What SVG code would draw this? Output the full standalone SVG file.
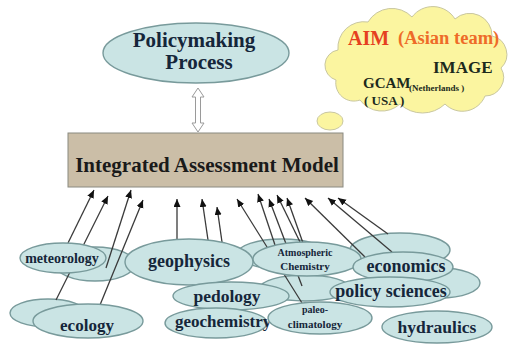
<svg xmlns="http://www.w3.org/2000/svg" width="508" height="344" viewBox="0 0 508 344">
  <defs>
    <marker id="ah" markerUnits="userSpaceOnUse" markerWidth="9" markerHeight="8" refX="8" refY="3.5" orient="auto">
      <path d="M0,0 L8,3.5 L0,7 z" fill="#111"/>
    </marker>
    <style>
      .ell { fill: #cae4e4; stroke: #789a9b; stroke-width: 1.4; }
      .lbl { font-family: "Liberation Serif", "Times New Roman", serif; font-weight: bold; fill: #15263a; text-anchor: middle; }
      .cl { font-family: "Liberation Serif", "Times New Roman", serif; font-weight: bold; fill: #1c2a1c; }
      .con { stroke: #3a3a3a; stroke-width: 1.3; fill: none; marker-end: url(#ah); }
      .cloudshape { fill: #fbf5a0; stroke: #c9c7a0; stroke-width: 1; }
    </style>
  </defs>
  <rect width="508" height="344" fill="#ffffff"/>

  <!-- Policymaking Process -->
  <g id="policymaking">
    <ellipse class="ell" cx="196" cy="53" rx="93" ry="30"/>
    <text class="lbl" x="194" y="47" font-size="21">Policymaking</text>
    <text class="lbl" x="199" y="69" font-size="21">Process</text>
  </g>

  <!-- double arrow -->
  <g id="link-policy-iam">
    <polygon points="198,88 204,97 200.5,97 200.5,123 204,123 198,132 192,123 195.5,123 195.5,97 192,97" fill="#ffffff" stroke="#9a9a9a" stroke-width="1"/>
  </g>

  <!-- Integrated Assessment Model -->
  <g id="iam">
    <rect x="68" y="133" width="275" height="54" fill="#cbbea7" stroke="#8a8a80" stroke-width="1"/>
    <text class="lbl" x="207" y="172" font-size="21" style="fill:#1a1a1a">Integrated Assessment Model</text>
  </g>

  <!-- Cloud -->
  <g id="cloud">
    <ellipse class="cloudshape" cx="330" cy="121" rx="13" ry="9"/>
    <path class="cloudshape" d="M338 50 A26 26 0 0 1 368 22 A27.8 27.8 0 0 1 412 17 A26 26 0 0 1 455 19 A22.2 22.2 0 0 1 492 36 A18.8 18.8 0 0 1 501 68 A18.6 18.6 0 0 1 485 96 A24.4 24.4 0 0 1 445 104 A32.6 32.6 0 0 1 400 104 A27 27 0 0 1 360 100 A18.1 18.1 0 0 1 336 80 A15.4 15.4 0 0 1 338 50 Z"/>
    <text class="cl" x="348" y="45" font-size="20" style="fill:#e5401f">AIM</text>
    <text class="cl" x="398" y="44" font-size="18.5" style="fill:#ee6b28">(Asian team)</text>
    <text class="cl" x="433" y="73" font-size="17">IMAGE</text>
    <text class="cl" x="363" y="88" font-size="15">GCAM</text>
    <text class="cl" x="409" y="91" font-size="9">(Netherlands )</text>
    <text class="cl" x="364" y="105" font-size="13">( USA )</text>
  </g>

  <!-- background ellipses -->
  <g id="meteorology-back"><ellipse class="ell" cx="95" cy="264" rx="40" ry="17"/></g>
  <g id="ecology-back"><ellipse class="ell" cx="48" cy="313" rx="38" ry="14"/></g>
  <g id="atmos-back"><ellipse class="ell" cx="282" cy="254" rx="45" ry="15"/></g>
  <g id="mid-back"><ellipse class="ell" cx="305" cy="288" rx="45" ry="13"/></g>
  <g id="economics-back"><ellipse class="ell" cx="400" cy="250" rx="50" ry="17"/></g>
  <g id="right-back"><ellipse class="ell" cx="440" cy="283" rx="40" ry="15"/></g>

  <!-- connectors -->
  <g id="connectors">
    <line class="con" x1="68" y1="243" x2="94" y2="190"/>
    <line class="con" x1="56" y1="300" x2="108" y2="196"/>
    <line class="con" x1="106" y1="268" x2="131" y2="190"/>
    <line class="con" x1="100" y1="305" x2="143" y2="200"/>
    <line class="con" x1="177" y1="240" x2="177" y2="199"/>
    <line class="con" x1="208" y1="240" x2="202" y2="199"/>
    <line class="con" x1="222" y1="242" x2="217" y2="207"/>
    <line class="con" x1="302" y1="303" x2="237" y2="199"/>
    <line class="con" x1="275" y1="245" x2="258" y2="194"/>
    <line class="con" x1="302" y1="286" x2="269" y2="199"/>
    <line class="con" x1="300" y1="242" x2="277" y2="195"/>
    <line class="con" x1="303" y1="243" x2="287" y2="198"/>
    <line class="con" x1="365" y1="257" x2="305" y2="198"/>
    <line class="con" x1="392" y1="252" x2="328" y2="198"/>
    <line class="con" x1="388" y1="234" x2="338" y2="198"/>
  </g>

  <!-- front ellipses -->
  <g id="meteorology">
    <ellipse class="ell" cx="63" cy="258" rx="43" ry="15"/>
    <text class="lbl" x="62" y="263" font-size="14">meteorology</text>
  </g>
  <g id="ecology">
    <ellipse class="ell" cx="88" cy="321" rx="55" ry="17"/>
    <text class="lbl" x="87" y="331" font-size="17">ecology</text>
  </g>
  <g id="geophysics">
    <ellipse class="ell" cx="189" cy="262" rx="64" ry="23"/>
    <text class="lbl" x="189" y="267" font-size="18">geophysics</text>
  </g>
  <g id="atmospheric-chemistry">
    <ellipse class="ell" cx="307" cy="259" rx="54" ry="17"/>
    <text class="lbl" x="305" y="256" font-size="10">Atmospheric</text>
    <text class="lbl" x="305" y="270" font-size="11">Chemistry</text>
  </g>
  <g id="economics">
    <ellipse class="ell" cx="403" cy="267" rx="50" ry="15"/>
    <text class="lbl" x="406" y="272" font-size="18">economics</text>
  </g>
  <g id="pedology">
    <ellipse class="ell" cx="231" cy="296" rx="58" ry="14"/>
    <text class="lbl" x="227" y="302" font-size="17.5">pedology</text>
  </g>
  <g id="policy-sciences">
    <ellipse class="ell" cx="390" cy="292" rx="60" ry="15"/>
    <text class="lbl" x="391" y="297" font-size="18">policy sciences</text>
  </g>
  <g id="geochemistry">
    <ellipse class="ell" cx="216" cy="323" rx="51" ry="15"/>
    <text class="lbl" x="175" y="327" font-size="17" style="text-anchor:start">geochemistry</text>
  </g>
  <g id="paleo-climatology">
    <ellipse class="ell" cx="320" cy="318" rx="52" ry="16"/>
    <text class="lbl" x="315" y="313" font-size="10">paleo-</text>
    <text class="lbl" x="315" y="328" font-size="11">climatology</text>
  </g>
  <g id="hydraulics">
    <ellipse class="ell" cx="437" cy="327" rx="55" ry="16"/>
    <text class="lbl" x="437" y="333" font-size="17.5">hydraulics</text>
  </g>
</svg>
